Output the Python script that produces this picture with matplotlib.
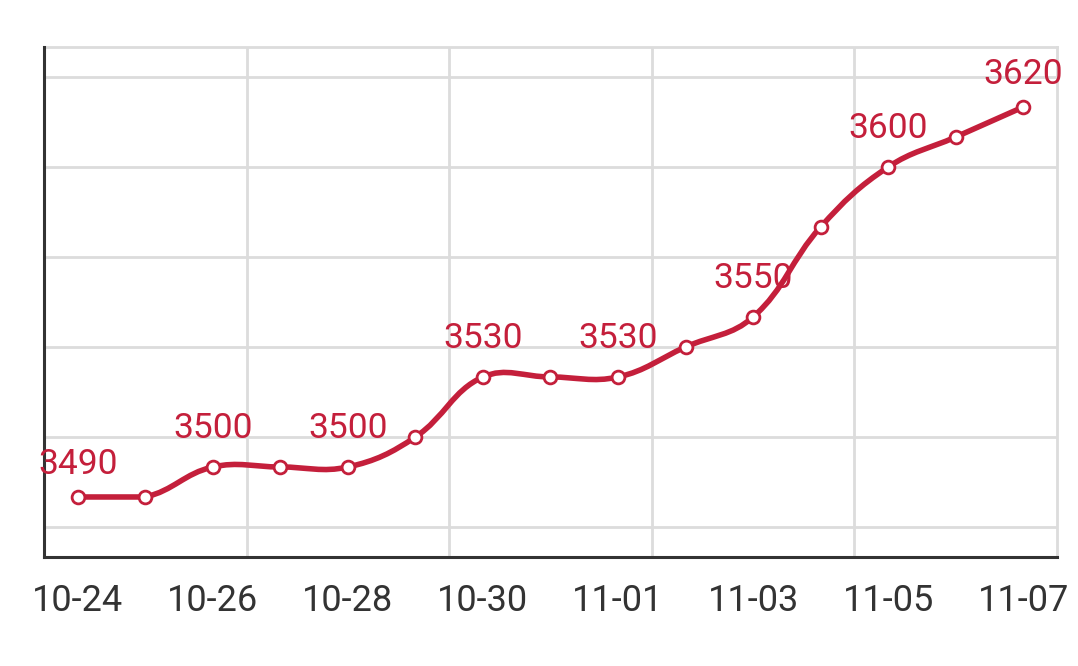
import numpy as np
import matplotlib.pyplot as plt
from matplotlib.path import Path
from matplotlib.patches import PathPatch

plt.rcParams["font.family"] = ["Roboto", "DejaVu Sans"]

dates = ["10-24", "10-25", "10-26", "10-27", "10-28", "10-29", "10-30", "10-31",
         "11-01", "11-02", "11-03", "11-04", "11-05", "11-06", "11-07"]
prices = [3490, 3490, 3500, 3500, 3500, 3510, 3530, 3530,
          3530, 3540, 3550, 3580, 3600, 3610, 3620]
y_grid = [3480, 3510, 3540, 3570, 3600, 3630]

RED = "#c41f3b"

x = np.arange(len(prices), dtype=float)
y = np.array(prices, dtype=float)

# smooth line: catmull-rom -> bezier, control points kept inside the data box
# (work in approximate pixel units so distances behave like on screen)
sx, sy = 67.5, 3.0
P = np.column_stack([x * sx, y * sy])
lo, hi = P.min(axis=0), P.max(axis=0)
n = len(P)
cps = []
for i in range(n):
    prev_p = P[i] if i == 0 else P[i - 1]
    next_p = P[i] if i == n - 1 else P[i + 1]
    v = (next_p - prev_p) * 0.4
    d0 = np.hypot(*(P[i] - prev_p))
    d1 = np.hypot(*(P[i] - next_p))
    s = d0 + d1
    if s:
        d0, d1 = d0 / s, d1 / s
    c0 = np.clip(P[i] - v * d0, lo, hi)
    c1 = np.clip(P[i] + v * d1, lo, hi)
    cps.append((c0, c1))

verts = [P[0]]
codes = [Path.MOVETO]
for i in range(n - 1):
    verts += [cps[i][1], cps[i + 1][0], P[i + 1]]
    codes += [Path.CURVE4] * 3
verts = np.array(verts) / [sx, sy]

fig = plt.figure(figsize=(10.78, 6.66), dpi=100)
ax = fig.add_axes([0.0408, 0.1637, 0.9397, 0.7657])

ax.add_patch(PathPatch(Path(verts, codes), fill=False, edgecolor=RED,
                       lw=4.0, capstyle="round", joinstyle="round", zorder=4))
ax.plot(x, y, "o", ms=9.2, mfc="white", mec=RED, mew=2.0, zorder=5)

for i in range(0, n, 2):
    dy = 16.5 if i in (0, n - 1) else 20.8
    ax.annotate(str(prices[i]), (x[i], y[i]), xytext=(0, dy),
                textcoords="offset points", ha="center", va="baseline",
                fontsize=25.5, color=RED, zorder=3, annotation_clip=False)

ax.set_xlim(-0.5, n - 0.5)
ax.set_ylim(3470, 3640)

ax.set_xticks(x[::2])
ax.set_xticklabels(dates[::2])
ax.set_xticks([2.5, 5.5, 8.5, 11.5], minor=True)
ax.set_yticks(y_grid)
ax.set_yticklabels([])

ax.tick_params(axis="x", which="major", length=0, pad=19, labelsize=26,
               labelcolor="#333333")
ax.tick_params(axis="x", which="minor", length=0)
ax.tick_params(axis="y", length=0)

ax.grid(axis="x", which="minor", color="#dcdcdc", lw=2)
ax.grid(axis="y", which="major", color="#dcdcdc", lw=2)
ax.set_axisbelow(True)

for side in ["left", "bottom"]:
    ax.spines[side].set_color("#333333")
    ax.spines[side].set_linewidth(2.2)
for side in ["top", "right"]:
    ax.spines[side].set_color("#dcdcdc")
    ax.spines[side].set_linewidth(2)
    ax.spines[side].set_zorder(1)

fig.savefig("out.png", dpi=100)
